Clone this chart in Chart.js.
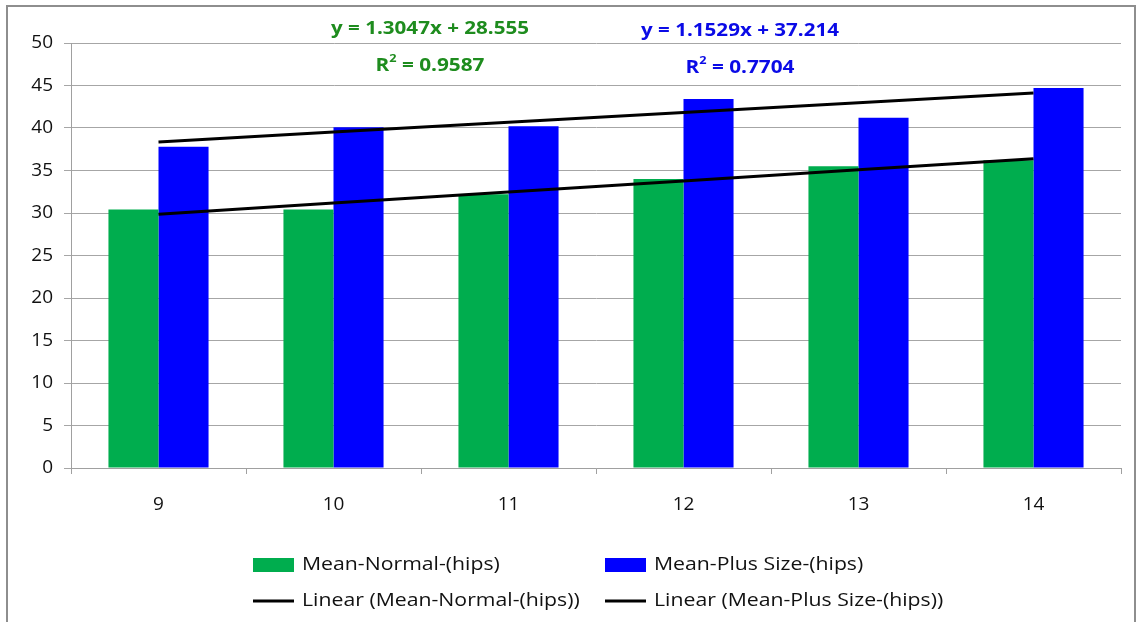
<!DOCTYPE html>
<html>
<head>
<meta charset="utf-8">
<title>Mean hips by age</title>
<script src="https://cdn.jsdelivr.net/npm/chart.js@4"></script>
<style>
  html, body { margin: 0; padding: 0; background: #fff; }
  #wrap { position: relative; width: 1139px; height: 622px; overflow: hidden; }
  #frame { position: absolute; left: 6px; top: 5px; width: 1130px; height: 640px; border: 2px solid #8e8e8e; box-sizing: border-box; }
  #c { position: absolute; left: 0; top: 0; }
</style>
</head>
<body>
<div id="wrap">
  <div id="frame"></div>
  <canvas id="c" width="1139" height="622"></canvas>
</div>
<script>
// Ages on the x axis
const categories = ['9', '10', '11', '12', '13', '14'];
// Mean hip measurements per age
const meanNormal = [30.4, 30.4, 32.2, 34.0, 35.5, 36.2];
const meanPlusSize = [37.8, 40.1, 40.2, 43.4, 41.2, 44.7];
// Linear trendline coefficients [slope, intercept] and R² as reported
const normalFit = [1.3047, 28.555];
const plusSizeFit = [1.1529, 37.214];
const normalR2 = '0.9587';
const plusSizeR2 = '0.7704';
// Value axis
const yTicks = [0, 5, 10, 15, 20, 25, 30, 35, 40, 45, 50];

const FONT = '"Open Sans", Lato, "DejaVu Sans", sans-serif';
const GREEN = '#00AD4E';
const BLUE = '#0000FF';

// Trendline values evaluated at x = 1..n (Excel's series index)
const fitLine = (fit) => categories.map((_, i) => fit[0] * (i + 1) + fit[1]);

const fmtEq = (fit) => 'y = ' + fit[0].toFixed(4) + 'x + ' + fit[1].toFixed(3);

// Draws text horizontally scaled by factor s, left edge at x
function stretchText(ctx, text, x, y, s) {
  ctx.save();
  ctx.translate(x, y);
  ctx.scale(s, 1);
  ctx.textAlign = 'left';
  ctx.fillText(text, 0, 0);
  ctx.restore();
}

// Trendline equation labels
const equationLabels = {
  id: 'equationLabels',
  afterDraw(chart) {
    const ctx = chart.ctx;
    const items = [
      { fit: normalFit, r2: normalR2, color: '#1E8C1E', x: 430, y1: 29, y2: 66 },
      { fit: plusSizeFit, r2: plusSizeR2, color: '#0A0AE6', x: 740, y1: 31, y2: 68 }
    ];
    ctx.save();
    ctx.textBaseline = 'middle';
    items.forEach(it => {
      ctx.fillStyle = it.color;
      ctx.font = 'bold 18px ' + FONT;
      const eq = fmtEq(it.fit);
      const s1 = 198 / ctx.measureText(eq).width;
      stretchText(ctx, eq, it.x - 99, it.y1, s1);
      // R² with raised 2
      const a = 'R', b = '2', c = ' = ' + it.r2;
      ctx.font = 'bold 18px ' + FONT;
      const wa = ctx.measureText(a).width, wc = ctx.measureText(c).width;
      ctx.font = 'bold 11px ' + FONT;
      const wb = ctx.measureText(b).width;
      const s2 = 109 / (wa + wb + wc);
      let x = it.x - 54.5;
      ctx.font = 'bold 18px ' + FONT;
      stretchText(ctx, a, x, it.y2, s2);
      x += wa * s2;
      ctx.font = 'bold 11px ' + FONT;
      stretchText(ctx, b, x, it.y2 - 7, s2);
      x += wb * s2;
      ctx.font = 'bold 18px ' + FONT;
      stretchText(ctx, c, x, it.y2, s2);
    });
    ctx.restore();
  }
};

// Two-column legend under the axis
const gridLegend = {
  id: 'gridLegend',
  afterDraw(chart) {
    const ctx = chart.ctx;
    const cols = [253, 605];
    const rows = [565, 601];
    ctx.save();
    ctx.font = '18px ' + FONT;
    ctx.textBaseline = 'middle';
    chart.data.datasets.forEach((ds, i) => {
      const x = cols[i % 2];
      const y = rows[Math.floor(i / 2)];
      if (ds.type === 'line') {
        ctx.strokeStyle = ds.borderColor;
        ctx.lineWidth = 3;
        ctx.beginPath();
        ctx.moveTo(x, y);
        ctx.lineTo(x + 41, y);
        ctx.stroke();
      } else {
        ctx.fillStyle = ds.backgroundColor;
        ctx.fillRect(x, y - 7, 41, 14);
      }
      ctx.fillStyle = '#111';
      stretchText(ctx, ds.label, x + 49, y, 1.18);
    });
    ctx.restore();
  }
};

new Chart(document.getElementById('c'), {
  type: 'bar',
  data: {
    labels: categories,
    datasets: [
      { label: 'Mean-Normal-(hips)', data: meanNormal, backgroundColor: GREEN, order: 2 },
      { label: 'Mean-Plus Size-(hips)', data: meanPlusSize, backgroundColor: BLUE, order: 2 },
      { type: 'line', label: 'Linear (Mean-Normal-(hips))', data: fitLine(normalFit),
        borderColor: '#000', borderWidth: 3, pointRadius: 0, tension: 0, order: 0 },
      { type: 'line', label: 'Linear (Mean-Plus Size-(hips))', data: fitLine(plusSizeFit),
        borderColor: '#000', borderWidth: 3, pointRadius: 0, tension: 0, order: 0 }
    ]
  },
  options: {
    responsive: false,
    animation: false,
    datasets: { bar: { categoryPercentage: 0.572, barPercentage: 1.0 } },
    layout: { padding: { left: 0, top: 43, right: 18, bottom: 0 } },
    plugins: { legend: { display: false }, tooltip: { enabled: false } },
    scales: {
      x: {
        grid: { offset: true, drawOnChartArea: false, drawTicks: true, tickLength: 6, color: '#a0a0a0' },
        border: { display: true, color: '#a0a0a0', width: 1 },
        ticks: { color: '#111', font: { family: FONT, size: 19 }, padding: 19, maxRotation: 0 },
        afterFit(scale) { scale.height = 154; }
      },
      y: {
        min: yTicks[0],
        max: yTicks[yTicks.length - 1],
        afterBuildTicks(scale) { scale.ticks = yTicks.map(v => ({ value: v })); },
        grid: { color: '#a6a6a6', tickLength: 7, lineWidth: 1 },
        border: { display: true, color: '#a0a0a0', width: 1 },
        ticks: { color: '#111', font: { family: FONT, size: 19 }, padding: 11 },
        afterFit(scale) { scale.width = 71; }
      }
    }
  },
  plugins: [equationLabels, gridLegend]
});
</script>
</body>
</html>
